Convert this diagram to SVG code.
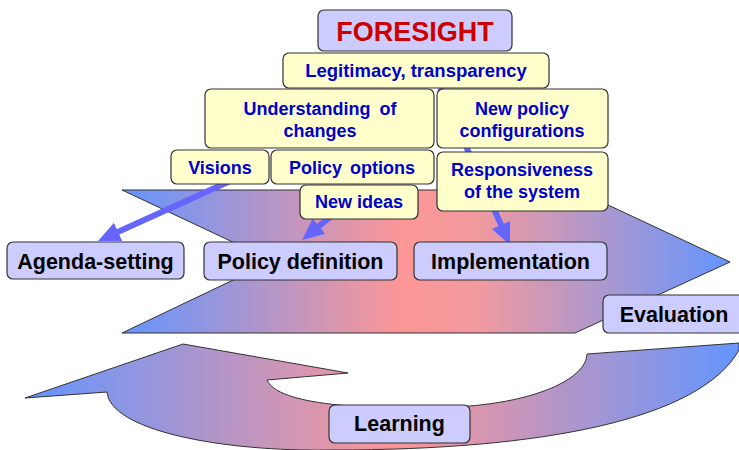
<svg xmlns="http://www.w3.org/2000/svg" width="739" height="450" viewBox="0 0 739 450">
<defs>
<linearGradient id="gTop" gradientUnits="userSpaceOnUse" x1="122" y1="0" x2="730" y2="0">
<stop offset="0" stop-color="#6495ff"/>
<stop offset="0.46" stop-color="#fc9696"/>
<stop offset="0.58" stop-color="#f39a9e"/>
<stop offset="1" stop-color="#6495ff"/>
</linearGradient>
<linearGradient id="gBot" gradientUnits="userSpaceOnUse" x1="26" y1="0" x2="739" y2="0">
<stop offset="0" stop-color="#6495ff"/>
<stop offset="0.52" stop-color="#fc9696"/>
<stop offset="1" stop-color="#6495ff"/>
</linearGradient>
<marker id="ah" markerUnits="userSpaceOnUse" markerWidth="22" markerHeight="20" viewBox="0 0 22 20" refX="7" refY="10" orient="auto">
<path d="M0,0 L22,10 L0,20 Z" fill="#6666ff"/>
</marker>
</defs>
<style>
.shape{stroke:#333;stroke-width:1}
.y{fill:#ffffcc;stroke:#333;stroke-width:1.2}
.l{fill:#ccccff;stroke:#333;stroke-width:1.2}
.ty{font-family:"Liberation Sans",Arial,sans-serif;font-weight:bold;font-size:18px;fill:#0000cc;text-anchor:middle}
.tl{font-family:"Liberation Sans",Arial,sans-serif;font-weight:bold;font-size:21.5px;fill:#000;text-anchor:middle}
.conn{stroke:#6666ff;stroke-width:6;fill:none;marker-end:url(#ah)}
</style>
<rect width="739" height="450" fill="#fff"/>
<g id="cycle">
<path class="shape" fill="url(#gTop)" d="M122,190 L576,190 L730,262 L575,333 L122,333 L273,261 Z"/>
<path class="shape" fill="url(#gBot)" d="M739,343 L587,354 C586,378 540,400 470,406 C400,410 280,410 267,380 L348,373 L183,344 L25,398 L107,392 C110,430 220,452 333,450 C540,450 700,420 739,350 Z"/>
</g>
<g id="connectors">
<line class="conn" x1="250" y1="172" x2="111.7" y2="234.8"/>
<line class="conn" x1="345" y1="205" x2="313.6" y2="230.5"/>
<line class="conn" x1="440" y1="88" x2="503.9" y2="231.3"/>
</g>
<g id="foresight">
<rect x="318" y="10" width="194" height="41" rx="6" class="l"/>
<text x="415" y="41" style="font-family:'Liberation Sans',Arial,sans-serif;font-weight:bold;font-size:27px;fill:#cc0000;text-anchor:middle">FORESIGHT</text>
</g>
<g id="legitimacy">
<rect x="283" y="53" width="266" height="35" rx="6" class="y"/>
<text x="416" y="77" class="ty" style="font-size:18.5px">Legitimacy, transparency</text>
</g>
<g id="understanding">
<rect x="205" y="89" width="229" height="59" rx="6" class="y"/>
<text x="320" y="115" class="ty" style="word-spacing:4px">Understanding of</text>
<text x="320" y="137" class="ty">changes</text>
</g>
<g id="newpolicy">
<rect x="437" y="89" width="171" height="59" rx="6" class="y"/>
<text x="522" y="115" class="ty">New policy</text>
<text x="522" y="137" class="ty">configurations</text>
</g>
<g id="visions">
<rect x="171" y="150" width="98" height="34" rx="6" class="y"/>
<text x="220" y="174" class="ty">Visions</text>
</g>
<g id="policyoptions">
<rect x="271" y="150" width="163" height="34" rx="6" class="y"/>
<text x="352" y="174" class="ty" style="word-spacing:3px">Policy options</text>
</g>
<g id="newideas">
<rect x="300" y="185" width="118" height="34" rx="6" class="y"/>
<text x="359" y="208" class="ty">New ideas</text>
</g>
<g id="responsiveness">
<rect x="437" y="152" width="171" height="59" rx="6" class="y"/>
<text x="522" y="176" class="ty">Responsiveness</text>
<text x="522" y="198" class="ty">of the system</text>
</g>
<g id="agenda">
<rect x="7" y="242" width="177" height="37" rx="6" class="l"/>
<text x="95.5" y="269" class="tl">Agenda-setting</text>
</g>
<g id="policydef">
<rect x="204" y="242" width="193" height="38" rx="6" class="l"/>
<text x="300.5" y="269" class="tl">Policy definition</text>
</g>
<g id="implementation">
<rect x="414" y="242" width="193" height="38" rx="6" class="l"/>
<text x="510.5" y="269" class="tl">Implementation</text>
</g>
<g id="evaluation">
<rect x="603" y="295" width="145" height="38" rx="6" class="l"/>
<text x="674" y="322" class="tl">Evaluation</text>
</g>
<g id="learning">
<rect x="329" y="405" width="141" height="38" rx="6" class="l"/>
<text x="399.5" y="431" class="tl">Learning</text>
</g>
</svg>
